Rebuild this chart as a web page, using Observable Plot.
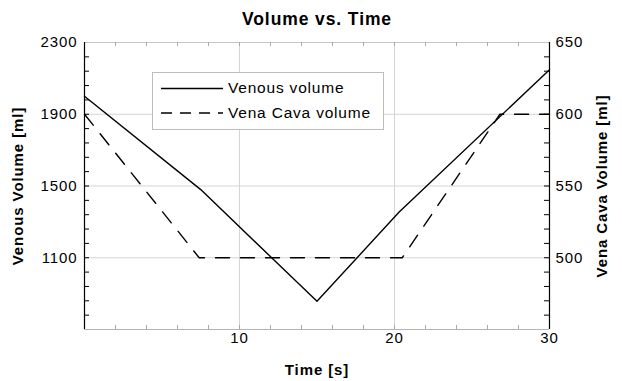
<!DOCTYPE html>
<html>
<head>
<meta charset="utf-8">
<script src="https://cdn.jsdelivr.net/npm/d3@7"></script>
<script src="https://cdn.jsdelivr.net/npm/@observablehq/plot@0.6"></script>
<style>
  html, body { margin: 0; padding: 0; background: #fff; }
  #wrap { position: relative; width: 622px; height: 381px; font-family: "Liberation Sans", Arial, sans-serif; }
  #wrap svg text { letter-spacing: 0.9px; }
  #legend { position: absolute; left: 152px; top: 72px; width: 230px; height: 56px; border: 1px solid #bdbdbd; background: #fff; }
  #legend svg { position: absolute; left: 0; top: 0; }
  .lg { position: absolute; left: 75px; font-size: 15.5px; letter-spacing: 0.8px; color: #000; line-height: 18px; white-space: nowrap; }
</style>
</head>
<body>
<div id="wrap"></div>
<script>
// Data
const venousTime = [0, 7.5, 15, 20.3, 30];            // s
const venousVolume = [2000, 1480, 857, 1355, 2148];   // ml (left axis)
const cavaTime = [0, 7.4, 20.5, 26.8, 30];            // s
const cavaVolume = [600, 500, 500, 600, 600];         // ml (right axis)

const leftTicks = [1100, 1500, 1900, 2300];
const rightTicks = [500, 550, 600, 650];
const xTicks = [10, 20, 30];
const xMinor = d3.range(2, 30, 2);
const yMinor = d3.range(780, 2300, 80);

const leftDomain = [700, 2300];
const rightDomain = [450, 650];
const toLeft = d3.scaleLinear().domain(rightDomain).range(leftDomain);

const venous = venousTime.map((t, i) => ({t, v: venousVolume[i]}));
const cava = cavaTime.map((t, i) => ({t, v: cavaVolume[i]}));

const W = 622, H = 381, ML = 84, MR = 73, MT = 42, MB = 52;
const PW = W - ML - MR, PH = H - MT - MB;
const grid = "#d4d4d4";

const chart = Plot.plot({
  width: W, height: H,
  marginLeft: ML, marginRight: MR, marginTop: MT, marginBottom: MB,
  style: {fontFamily: "Liberation Sans, Arial, sans-serif", fontSize: "15px", color: "#000", background: "#fff"},
  x: {domain: [0, 30]},
  y: {domain: leftDomain},
  marks: [
    Plot.ruleX([10, 20], {stroke: grid, strokeWidth: 1}),
    Plot.ruleY([1100, 1500, 1900], {stroke: grid, strokeWidth: 1}),
    Plot.ruleY([2300], {stroke: "#c4c4c4"}),
    Plot.ruleY([700], {stroke: "#b4b4b4"}),
    Plot.tickX(xMinor.concat([10, 20]), {x: d => d, insetTop: PH - 4, stroke: "#aaa"}),
    Plot.tickX(xMinor.concat([10, 20]), {x: d => d, insetBottom: PH - 4, stroke: "#aaa"}),
    Plot.tickY(yMinor, {y: d => d, insetRight: PW - 5, stroke: "#000"}),
    Plot.tickY(yMinor, {y: d => d, insetLeft: PW - 5, stroke: "#000"}),
    Plot.ruleX([0, 30], {stroke: "#000", strokeWidth: 1.2}),
    Plot.line(venous, {x: "t", y: "v", stroke: "#000", strokeWidth: 1.4}),
    Plot.line(cava, {x: "t", y: d => toLeft(d.v), stroke: "#000", strokeWidth: 1.4, strokeDasharray: "14,11"}),
    Plot.axisY(leftTicks, {anchor: "left", tickSize: 0, tickPadding: 7, fontSize: 15, label: null, tickFormat: d => String(d)}),
    Plot.axisY(rightTicks.map(toLeft), {anchor: "right", tickSize: 0, tickPadding: 6, fontSize: 15, label: null,
      tickFormat: d => String(Math.round(toLeft.invert(d)))}),
    Plot.axisX(xTicks, {anchor: "bottom", tickSize: 0, tickPadding: 3, fontSize: 15, label: null, tickFormat: d => String(d)}),
    Plot.text(["Volume vs. Time"], {frameAnchor: "top", dy: -23, fontSize: 17.5, fontWeight: "bold", lineAnchor: "middle"}),
    Plot.text(["Time [s]"], {frameAnchor: "bottom", dy: 41, fontSize: 15, fontWeight: "bold", lineAnchor: "middle"}),
    Plot.text(["Venous Volume [ml]"], {frameAnchor: "left", dx: -66, rotate: -90, textAnchor: "middle", fontSize: 15, fontWeight: "bold", lineAnchor: "middle"}),
    Plot.text(["Vena Cava Volume [ml]"], {frameAnchor: "right", dx: 53, rotate: -90, textAnchor: "middle", fontSize: 15, fontWeight: "bold", lineAnchor: "middle"})
  ]
});

const wrap = document.getElementById("wrap");
wrap.appendChild(chart);

const legend = document.createElement("div");
legend.id = "legend";
legend.innerHTML = `
  <svg width="230" height="56">
    <line x1="8" x2="70" y1="15.5" y2="15.5" stroke="#000" stroke-width="1.4"/>
    <line x1="8" x2="70" y1="40" y2="40" stroke="#000" stroke-width="1.4" stroke-dasharray="11,8"/>
  </svg>
  <div class="lg" style="top:6px">Venous volume</div>
  <div class="lg" style="top:31px">Vena Cava volume</div>`;
wrap.appendChild(legend);
</script>
</body>
</html>
